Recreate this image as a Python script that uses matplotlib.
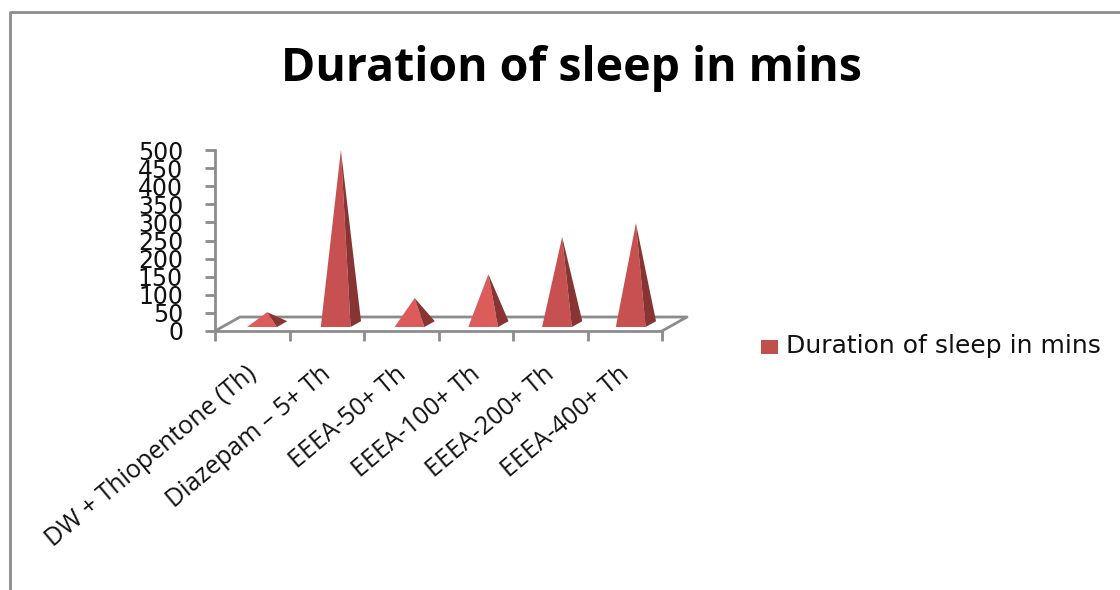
import matplotlib
matplotlib.use("Agg")
import matplotlib.pyplot as plt
from matplotlib.patches import Polygon, Rectangle
from matplotlib.lines import Line2D

categories = ["DW + Thiopentone (Th)", "Diazepam – 5+ Th", "EEEA-50+ Th",
              "EEEA-100+ Th", "EEEA-200+ Th", "EEEA-400+ Th"]
durations = [27, 475, 66, 132, 235, 273]
y_ticks = [0, 50, 100, 150, 200, 250, 300, 350, 400, 450, 500]
title = "Duration of sleep in mins"

W, H = 1120, 590
GREY = "#8c8c8c"

fig = plt.figure(figsize=(W / 100, H / 100), dpi=100)
plt.rcParams["font.family"] = "Open Sans"

# axes placee sur le repere de la figure (pixels de la reference)
ax = fig.add_axes([215 / W, 1 - 331 / H, 447 / W, 181 / H])
ax.set_xlim(0, 6)
ax.set_ylim(0, 500)
ax.patch.set_alpha(0)
ax.spines["top"].set_visible(False)
ax.spines["right"].set_visible(False)
for s in ["left", "bottom"]:
    ax.spines[s].set_color(GREY)
    ax.spines[s].set_linewidth(2)

# plancher 3D
dx, dy = 25 / 74.5, 14 / 0.362
ax.plot([0, dx, 6 + dx, 6], [0, dy, dy, 0], color=GREY, lw=2, clip_on=False, zorder=1)

# pyramides
base_y = 11
half = 0.2
for i, v in enumerate(durations):
    c = 0.63 + 0.99 * i
    left, right = c - half, c + half
    side_x = right + 0.14
    side_y = base_y + 16
    top_x = c + 0.07
    top_y = base_y + 14 + v
    front = "#dc5c5c" if v < 150 else "#c65150"
    ax.add_patch(Polygon([(left, base_y), (right, base_y), (top_x, top_y)],
                         closed=True, fc=front, ec="none", zorder=3, clip_on=False))
    ax.add_patch(Polygon([(right, base_y), (side_x, side_y), (top_x, top_y)],
                         closed=True, fc="#873432", ec="none", zorder=3, clip_on=False))

ax.set_yticks(y_ticks)
ax.set_yticklabels(y_ticks, fontsize=17, family="DejaVu Sans", color="#111111")
ax.tick_params(axis="y", length=7, width=2, color=GREY, pad=16)
ax.set_xticks(range(7))
ax.set_xticklabels([""] * 7)
ax.tick_params(axis="x", length=7, width=2, color=GREY)

# etiquettes des categories
for i, lab in enumerate(categories):
    ax.annotate(lab, xy=(i + 0.5, 0), xycoords=("data", "axes fraction"),
                xytext=(1, -29), textcoords="offset points", rotation=40,
                rotation_mode="anchor", ha="right", va="center",
                fontsize=18, color="#111111")

fig.text(571 / W, 1 - 68 / H, title, ha="center", va="center",
         fontsize=33.4, fontweight="bold", color="black")

# legende
fig.add_artist(Rectangle((761 / W, 1 - 354 / H), 17 / W, 14 / H,
                         transform=fig.transFigure, fc="#c0504d", ec="none"))
fig.text(786 / W, 1 - 346 / H, title, ha="left", va="center", fontsize=18,
         family="DejaVu Sans", color="#111111")

# cadre du graphique
fig.add_artist(Line2D([9.5 / W, 9.5 / W, 1], [0, 1 - 12 / H, 1 - 12 / H],
                      transform=fig.transFigure, color=GREY, lw=2))

fig.savefig("out.png", dpi=100)
